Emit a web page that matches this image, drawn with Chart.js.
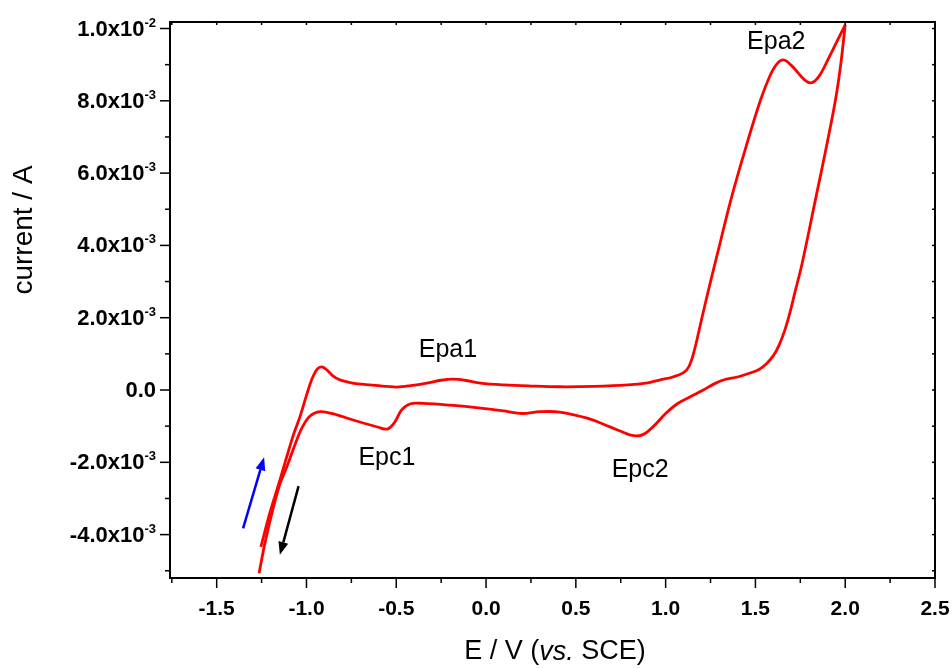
<!DOCTYPE html>
<html>
<head>
<meta charset="utf-8">
<script src="https://cdn.jsdelivr.net/npm/chart.js@4.4.1/dist/chart.umd.min.js"></script>
<style>
  html, body { margin: 0; padding: 0; background: #fff; }
</style>
</head>
<body>
<canvas id="cv" width="952" height="668"></canvas>
<script>
// Voltamograma ciclico (E em V vs SCE, corrente em mA)
const potencialIda = [-1.254, -1.204, -1.148, -1.11, -1.07, -1.037, -1.0, -0.97, -0.94, -0.914,
  -0.885, -0.855, -0.814, -0.75, -0.647, -0.55, -0.496, -0.42, -0.33, -0.25, -0.184, -0.12, -0.03,
  0.1, 0.25, 0.41, 0.6, 0.79, 0.9, 0.97, 1.04, 1.1, 1.13, 1.16, 1.2, 1.25, 1.3, 1.36, 1.44, 1.527,
  1.58, 1.62, 1.656, 1.7, 1.75, 1.79, 1.823, 1.86, 1.9, 1.95, 2.0];
const correnteIda_mA = [-4.34, -3.4, -2.49, -1.85, -1.2, -0.75, -0.15, 0.3, 0.58, 0.64,
  0.55, 0.4, 0.28, 0.2, 0.14, 0.1, 0.08, 0.12, 0.19, 0.27, 0.30, 0.27, 0.19,
  0.14, 0.11, 0.09, 0.1, 0.14, 0.2, 0.28, 0.36, 0.48, 0.65, 1.1, 1.95, 3.0, 4.0, 5.2, 6.6, 8.0,
  8.68, 9.02, 9.13, 8.98, 8.7, 8.52, 8.52, 8.72, 9.1, 9.6, 10.1];

const potencialVolta = [2.0, 1.975, 1.945, 1.89, 1.834, 1.76, 1.72, 1.69, 1.66, 1.63, 1.6, 1.56,
  1.52, 1.47, 1.4, 1.33, 1.27, 1.21, 1.14, 1.065, 1.0, 0.953, 0.9, 0.87, 0.84, 0.8, 0.76, 0.69,
  0.563, 0.41, 0.3, 0.2, 0.1, -0.03, -0.2, -0.35, -0.42, -0.47, -0.51, -0.55, -0.6, -0.74, -0.85,
  -0.925, -0.98, -1.02, -1.054, -1.11, -1.148, -1.187, -1.23, -1.264];
const correnteVolta_mA = [10.1, 9.0, 8.0, 6.6, 5.26, 3.5, 2.7, 2.1, 1.6, 1.22, 0.95, 0.72,
  0.57, 0.47, 0.36, 0.29, 0.17, 0.0, -0.18, -0.38, -0.65, -0.9, -1.15, -1.24, -1.27, -1.24, -1.16, -1.02,
  -0.78, -0.61, -0.6, -0.65, -0.58, -0.5, -0.42, -0.37, -0.38, -0.55, -0.9, -1.08, -1.03, -0.83, -0.66,
  -0.6, -0.72, -1.0, -1.38, -2.13, -2.6, -3.3, -4.2, -5.07];

// marcas dos eixos
const ticksE = [-1.5, -1.0, -0.5, 0.0, 0.5, 1.0, 1.5, 2.0, 2.5];
const ticksE_menores = [-1.75, -1.25, -0.75, -0.25, 0.25, 0.75, 1.25, 1.75, 2.25];
const ticksI = [-4e-3, -2e-3, 0, 2e-3, 4e-3, 6e-3, 8e-3, 1e-2];
const ticksI_menores = [-5e-3, -3e-3, -1e-3, 1e-3, 3e-3, 5e-3, 7e-3, 9e-3];

// rotulos dos picos (posicao em unidades dos eixos)
const picos = ['Epa1', 'Epc1', 'Epc2', 'Epa2'];
const picosE = [-0.212, -0.552, 0.858, 1.616];
const picosI_mA = [1.11, -1.88, -2.21, 9.63];

// setas de sentido da varredura
const setasCor = ['#0000ff', '#000000'];
const setasE = [[-1.353, -1.236], [-1.044, -1.148]];
const setasI_mA = [[-3.83, -1.86], [-2.66, -4.56]];

const FONTE = "'Liberation Sans', Arial, sans-serif";

// separa mantissa e expoente: 8e-3 -> ['8.0x10', '-3']
function partesCorrente(v) {
  if (Math.abs(v) < 1e-12) return ['0.0', ''];
  const e = Math.floor(Math.log10(Math.abs(v)) + 1e-9);
  const m = v / Math.pow(10, e);
  return [m.toFixed(1) + 'x10', String(e)];
}

function ehMaior(lista, v) {
  return lista.some(t => Math.abs(t - v) < 1e-9);
}

const pontosIda = potencialIda.map((e, i) => ({ x: e, y: correnteIda_mA[i] / 1000 }));
const pontosVolta = potencialVolta.map((e, i) => ({ x: e, y: correnteVolta_mA[i] / 1000 }));

const molduraPlugin = {
  id: 'moldura',
  afterDatasetsDraw(chart) {
    const { ctx, scales: { x, y } } = chart;
    ctx.save();
    // rotulos dos picos
    ctx.fillStyle = '#000';
    ctx.font = '25px ' + FONTE;
    ctx.textAlign = 'center';
    ctx.textBaseline = 'middle';
    picos.forEach((t, i) => {
      ctx.fillText(t, x.getPixelForValue(picosE[i]), y.getPixelForValue(picosI_mA[i] / 1000));
    });
    // setas
    setasCor.forEach((cor, i) => {
      const x0 = x.getPixelForValue(setasE[i][0]), y0 = y.getPixelForValue(setasI_mA[i][0] / 1000);
      const x1 = x.getPixelForValue(setasE[i][1]), y1 = y.getPixelForValue(setasI_mA[i][1] / 1000);
      const ang = Math.atan2(y1 - y0, x1 - x0);
      const L = 13, W = 5;
      const bx = x1 - L * Math.cos(ang), by = y1 - L * Math.sin(ang);
      ctx.strokeStyle = cor;
      ctx.fillStyle = cor;
      ctx.lineWidth = 2.5;
      ctx.beginPath();
      ctx.moveTo(x0, y0);
      ctx.lineTo(bx, by);
      ctx.stroke();
      ctx.beginPath();
      ctx.moveTo(x1, y1);
      ctx.lineTo(bx + W * Math.sin(ang), by - W * Math.cos(ang));
      ctx.lineTo(bx - W * Math.sin(ang), by + W * Math.cos(ang));
      ctx.closePath();
      ctx.fill();
    });
    ctx.restore();
  },
  afterDraw(chart) {
    const { ctx, chartArea: a, scales: { x, y } } = chart;
    ctx.save();
    ctx.strokeStyle = '#000';
    ctx.lineWidth = 1.5;
    const linha = (ax, ay, bx, by) => { ctx.beginPath(); ctx.moveTo(ax, ay); ctx.lineTo(bx, by); ctx.stroke(); };
    x.ticks.forEach(t => {
      const px = x.getPixelForValue(t.value);
      const len = ehMaior(ticksE, t.value) ? 10 : 5;
      linha(px, a.bottom, px, a.bottom + len);
      linha(px, a.top, px, a.top + 3);
    });
    y.ticks.forEach(t => {
      const py = y.getPixelForValue(t.value);
      const len = ehMaior(ticksI, t.value) ? 10 : 5;
      linha(a.left - len, py, a.left, py);
      linha(a.right - 3, py, a.right, py);
    });
    ctx.lineWidth = 2;
    ctx.strokeRect(a.left, a.top, a.right - a.left, a.bottom - a.top);

    // rotulos do eixo y com expoente sobrescrito
    ctx.fillStyle = '#000';
    ticksI.forEach(v => {
      const py = y.getPixelForValue(v);
      const [m, e] = partesCorrente(v);
      const fim = a.left - 14;
      ctx.font = 'bold 13px ' + FONTE;
      const we = e ? ctx.measureText(e).width : 0;
      ctx.textAlign = 'right';
      ctx.textBaseline = 'alphabetic';
      if (e) ctx.fillText(e, fim, py - 2);
      ctx.font = 'bold 22px ' + FONTE;
      ctx.textBaseline = 'middle';
      ctx.fillText(m, fim - we, py + 1);
    });

    // titulos dos eixos
    ctx.textBaseline = 'middle';
    const partes = [['E / V (', ''], ['vs.', 'italic '], [' SCE)', '']];
    let total = 0;
    partes.forEach(p => { ctx.font = p[1] + '27px ' + FONTE; total += ctx.measureText(p[0]).width; });
    let cx = 555 - total / 2;
    ctx.textAlign = 'left';
    partes.forEach(p => {
      ctx.font = p[1] + '27px ' + FONTE;
      ctx.fillText(p[0], cx, 652);
      cx += ctx.measureText(p[0]).width;
    });
    ctx.translate(24, 230);
    ctx.rotate(-Math.PI / 2);
    ctx.textAlign = 'center';
    ctx.font = '28px ' + FONTE;
    ctx.fillText('current / A', 0, 0);
    ctx.restore();
  }
};

new Chart(document.getElementById('cv'), {
  type: 'scatter',
  data: {
    datasets: [
      { data: pontosIda, showLine: true, borderColor: '#ff0000', borderWidth: 2.8, pointRadius: 0, tension: 0.35, fill: false },
      { data: pontosVolta, showLine: true, borderColor: '#ff0000', borderWidth: 2.8, pointRadius: 0, tension: 0.35, fill: false }
    ]
  },
  options: {
    responsive: false,
    animation: false,
    devicePixelRatio: 1,
    layout: { padding: { top: 22, right: 17, left: 0, bottom: 0 } },
    plugins: { legend: { display: false }, tooltip: { enabled: false } },
    scales: {
      x: {
        type: 'linear',
        min: -1.76,
        max: 2.5,
        afterFit: s => { s.height = 90; s.paddingLeft = 0; s.paddingRight = 0; },
        afterBuildTicks: s => { s.ticks = ticksE.concat(ticksE_menores).sort((a, b) => a - b).map(v => ({ value: v })); },
        grid: { display: false, drawTicks: false },
        border: { display: false },
        ticks: {
          autoSkip: false, maxRotation: 0, padding: 19, color: '#000',
          font: { family: FONTE, size: 21, weight: 'bold' },
          callback: v => ehMaior(ticksE, v) ? v.toFixed(1) : ''
        }
      },
      y: {
        type: 'linear',
        min: -5.2e-3,
        max: 10.18e-3,
        afterFit: s => { s.width = 170; s.paddingTop = 0; s.paddingBottom = 0; },
        afterBuildTicks: s => { s.ticks = ticksI.concat(ticksI_menores).sort((a, b) => a - b).map(v => ({ value: v })); },
        grid: { display: false, drawTicks: false },
        border: { display: false },
        ticks: { display: false }
      }
    }
  },
  plugins: [molduraPlugin]
});
</script>
</body>
</html>
